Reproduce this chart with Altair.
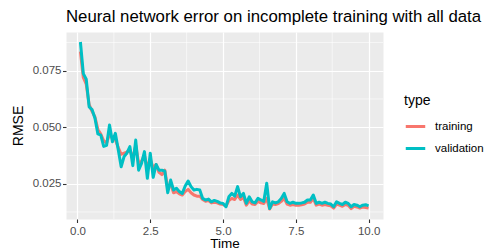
import altair as alt
import pandas as pd

time = [0.1, 0.2, 0.3, 0.4, 0.5, 0.6, 0.7, 0.8, 0.9, 1.0,
        1.1, 1.2, 1.3, 1.4, 1.5, 1.6, 1.7, 1.8, 1.9, 2.0,
        2.1, 2.2, 2.3, 2.4, 2.5, 2.6, 2.7, 2.8, 2.9, 3.0,
        3.1, 3.2, 3.3, 3.4, 3.5, 3.6, 3.7, 3.8, 3.9, 4.0,
        4.1, 4.2, 4.3, 4.4, 4.5, 4.6, 4.7, 4.8, 4.9, 5.0,
        5.1, 5.2, 5.3, 5.4, 5.5, 5.6, 5.7, 5.8, 5.9, 6.0,
        6.1, 6.2, 6.3, 6.4, 6.5, 6.6, 6.7, 6.8, 6.9, 7.0,
        7.1, 7.2, 7.3, 7.4, 7.5, 7.6, 7.7, 7.8, 7.9, 8.0,
        8.1, 8.2, 8.3, 8.4, 8.5, 8.6, 8.7, 8.8, 8.9, 9.0,
        9.1, 9.2, 9.3, 9.4, 9.5, 9.6, 9.7, 9.8, 9.9, 10.0]

training = [0.0835, 0.0720, 0.0690, 0.0600, 0.0570, 0.0545, 0.0490, 0.0470, 0.0440, 0.0430,
            0.0470, 0.0450, 0.0445, 0.0410, 0.0380, 0.0385, 0.0390, 0.0400, 0.0360, 0.0420,
            0.0340, 0.0350, 0.0375, 0.0320, 0.0360, 0.0320, 0.0335, 0.0300, 0.0290, 0.0310,
            0.0230, 0.0250, 0.0210, 0.0215, 0.0205, 0.0200, 0.0215, 0.0225, 0.0210, 0.0200,
            0.0195, 0.0195, 0.0180, 0.0172, 0.0175, 0.0165, 0.0168, 0.0165, 0.0160, 0.0158,
            0.0150, 0.0175, 0.0185, 0.0180, 0.0200, 0.0180, 0.0190, 0.0155, 0.0175, 0.0160,
            0.0158, 0.0172, 0.0165, 0.0162, 0.0185, 0.0138, 0.0160, 0.0158, 0.0162, 0.0172,
            0.0185, 0.0160, 0.0155, 0.0158, 0.0155, 0.0155, 0.0157, 0.0160, 0.0168, 0.0168,
            0.0185, 0.0155, 0.0160, 0.0155, 0.0158, 0.0155, 0.0152, 0.0142, 0.0160, 0.0155,
            0.0150, 0.0158, 0.0155, 0.0140, 0.0150, 0.0147, 0.0142, 0.0147, 0.0145, 0.0142]

validation = [0.0877, 0.0737, 0.0712, 0.0590, 0.0578, 0.0540, 0.0470, 0.0465, 0.0415, 0.0420,
              0.0510, 0.0436, 0.0473, 0.0400, 0.0325, 0.0370, 0.0386, 0.0414, 0.0330, 0.0443,
              0.0310, 0.0340, 0.0392, 0.0274, 0.0385, 0.0278, 0.0335, 0.0310, 0.0310, 0.0305,
              0.0210, 0.0266, 0.0222, 0.0230, 0.0215, 0.0207, 0.0240, 0.0262, 0.0237, 0.0222,
              0.0225, 0.0222, 0.0185, 0.0178, 0.0182, 0.0170, 0.0176, 0.0172, 0.0165, 0.0163,
              0.0148, 0.0192, 0.0207, 0.0195, 0.0237, 0.0192, 0.0207, 0.0163, 0.0192, 0.0170,
              0.0165, 0.0185, 0.0178, 0.0172, 0.0252, 0.0140, 0.0170, 0.0165, 0.0170, 0.0185,
              0.0207, 0.0170, 0.0163, 0.0168, 0.0163, 0.0163, 0.0165, 0.0168, 0.0178, 0.0178,
              0.0200, 0.0163, 0.0168, 0.0163, 0.0168, 0.0163, 0.0160, 0.0148, 0.0170, 0.0163,
              0.0158, 0.0168, 0.0163, 0.0148, 0.0158, 0.0155, 0.0148, 0.0155, 0.0157, 0.0152]

types = ["training", "validation"]
colors = ["#F8766D", "#00BFC4"]
x_ticks = [0.0, 2.5, 5.0, 7.5, 10.0]
x_minor = [1.25, 3.75, 6.25, 8.75]
y_ticks = [0.025, 0.050, 0.075]
y_minor = [0.0125, 0.0375, 0.0625, 0.0875]

df = pd.concat([
    pd.DataFrame({"time": time, "rmse": training, "type": "training"}),
    pd.DataFrame({"time": time, "rmse": validation, "type": "validation"}),
])

xscale = alt.Scale(domain=[-0.395, 10.495], nice=False, zero=False)
yscale = alt.Scale(domain=[0.00938, 0.09212], nice=False, zero=False)
xaxis = alt.Axis(values=x_ticks, format=".1f", title="Time")
yaxis = alt.Axis(values=y_ticks, format=".3f", title="RMSE")

xminor = alt.Chart(pd.DataFrame({"time": x_minor})).mark_rule(
    color="white", strokeWidth=0.6
).encode(x=alt.X("time:Q", scale=xscale, axis=xaxis))

yminor = alt.Chart(pd.DataFrame({"rmse": y_minor})).mark_rule(
    color="white", strokeWidth=0.6
).encode(y=alt.Y("rmse:Q", scale=yscale, axis=yaxis))

lines = alt.Chart(df).mark_line(strokeWidth=3, strokeJoin="round").encode(
    x=alt.X("time:Q", scale=xscale, axis=xaxis),
    y=alt.Y("rmse:Q", scale=yscale, axis=yaxis),
    color=alt.Color(
        "type:N",
        scale=alt.Scale(domain=types, range=colors),
        legend=alt.Legend(
            title="type",
            orient="none",
            legendX=338,
            legendY=62,
            symbolType="stroke",
            symbolStrokeWidth=3,
            symbolSize=380,
            labelOffset=8,
            rowPadding=4,
            titlePadding=7,
            padding=0,
        ),
    ),
)

chart = alt.layer(xminor, yminor, lines).properties(
    width=317,
    height=187,
    autosize=alt.AutoSizeParams(type="none"),
    padding={"left": 58, "top": 24, "right": 103, "bottom": 32},
    title=alt.TitleParams(
        "Neural network error on incomplete training with all data",
        anchor="start",
        frame="group",
        fontSize=16.8,
        font="Liberation Sans",
        fontWeight="normal",
        color="black",
        offset=6,
    ),
).configure_view(
    fill="#EBEBEB", strokeOpacity=0
).configure_axis(
    domain=False,
    grid=True,
    gridColor="white",
    gridWidth=1.2,
    tickColor="#333333",
    tickSize=3.5,
    tickWidth=1.1,
    labelColor="#4D4D4D",
    labelFont="Liberation Sans",
    labelFontSize=11.5,
    titleFont="Liberation Sans",
    titleFontSize=14,
    titleFontWeight="normal",
    titleColor="black",
).configure_axisX(
    labelPadding=2.5, titlePadding=0, titleFontSize=13.5
).configure_axisY(
    labelPadding=1.5, titlePadding=7
).configure_legend(
    titleFont="Liberation Sans",
    titleFontSize=14,
    titleFontWeight="normal",
    titleColor="black",
    labelFont="Liberation Sans",
    labelFontSize=11.5,
    labelColor="black",
)

chart.save("out.html", embed_options={"renderer": "svg", "actions": False})
